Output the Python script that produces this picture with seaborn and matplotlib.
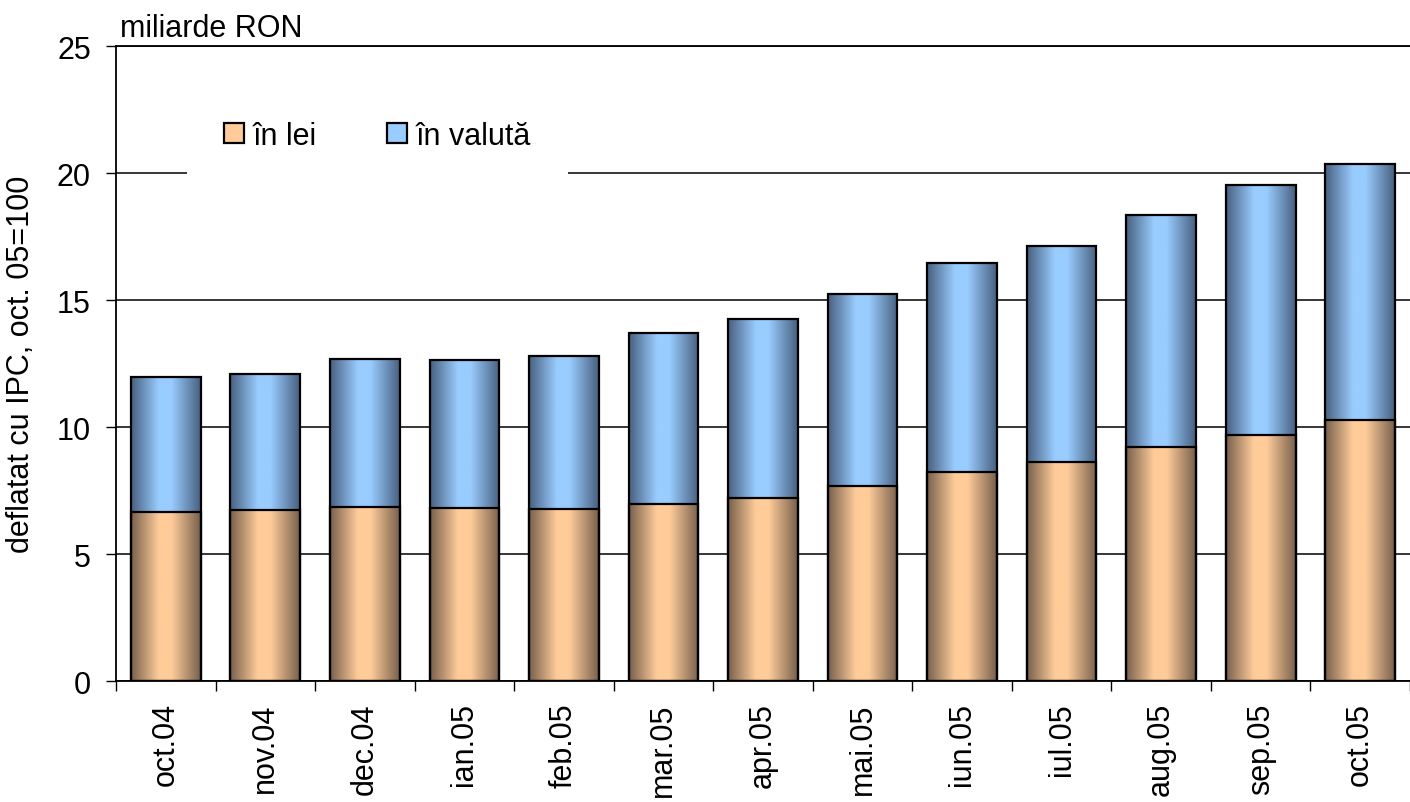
"""
Credite neguvernamentale - stacked bars (lei / valuta), deflatat cu IPC
"""
import numpy as np
import pandas as pd
import matplotlib
matplotlib.use("Agg")
import matplotlib.pyplot as plt
import seaborn as sns
from matplotlib.colors import LinearSegmentedColormap, to_rgb
from matplotlib.patches import Patch

luni = ["oct.04", "nov.04", "dec.04", "ian.05", "feb.05", "mar.05", "apr.05",
        "mai.05", "iun.05", "iul.05", "aug.05", "sep.05", "oct.05"]
in_lei = [6.65, 6.74, 6.85, 6.83, 6.78, 6.97, 7.23, 7.69, 8.25, 8.62, 9.24, 9.69, 10.28]
in_valuta = [5.34, 5.35, 5.84, 5.81, 6.04, 6.73, 7.02, 7.55, 8.21, 8.52, 9.11, 9.85, 10.09]

culoare_lei = "#FFCC99"
culoare_valuta = "#99CCFF"


def gradient_cmap(base):
    # dark - light - dark, ca in Excel
    r, g, b = to_rgb(base)
    dark = (r * 0.47, g * 0.47, b * 0.5)
    return LinearSegmentedColormap.from_list(
        "grad", [(0, dark), (0.4, base), (0.58, base), (1, dark)])


df = pd.DataFrame({"luna": luni, "lei": in_lei, "valuta": in_valuta})
df["total"] = df["lei"] + df["valuta"]

sns.set_style("white")
plt.rcParams["font.family"] = ["Liberation Sans", "DejaVu Sans"]
plt.rcParams.update({"text.color": "black", "axes.labelcolor": "black",
                     "xtick.color": "black", "ytick.color": "black"})

fig = plt.figure(figsize=(14.1, 8.03), dpi=100)
ax = fig.add_axes([116 / 1410, 1 - 682.3 / 803, 1 - 116 / 1410, 635 / 803])

sns.barplot(data=df, x="luna", y="total", color=culoare_valuta, width=0.7,
            edgecolor="black", linewidth=1.6, saturation=1, ax=ax)
sns.barplot(data=df, x="luna", y="lei", color=culoare_lei, width=0.7,
            edgecolor="black", linewidth=1.6, saturation=1, ax=ax)

n = len(luni)
cmaps = [gradient_cmap(culoare_valuta)] * n + [gradient_cmap(culoare_lei)] * n
grad = np.linspace(0, 1, 256).reshape(1, -1)
for i, (patch, cmap) in enumerate(zip(list(ax.patches), cmaps)):
    x0, y0 = patch.get_x(), patch.get_y()
    w, h = patch.get_width(), patch.get_height()
    ax.imshow(grad, cmap=cmap, extent=[x0, x0 + w, y0, y0 + h], aspect="auto",
              interpolation="bicubic", zorder=2 if i < n else 2.5)
    patch.set_facecolor("none")
    patch.set_zorder(3)

ax.set_xlim(-0.5, n - 0.5)
ax.set_ylim(0, 25)
ax.set_aspect("auto")

ax.set_yticks([0, 5, 10, 15, 20, 25])
ax.yaxis.grid(True, color="black", linewidth=1.1)
ax.xaxis.grid(False)
ax.set_axisbelow(True)

ax.set_xticks(range(n))
ax.set_xticklabels(luni, rotation=90)
ax.set_xticks(np.arange(-0.5, n, 1), minor=True)
ax.tick_params(axis="x", which="major", length=0, pad=15, labelsize=22)
ax.tick_params(axis="x", which="minor", bottom=True, length=7, width=1, color="black")
ax.tick_params(axis="y", left=True, length=7, width=1, color="black", pad=11, labelsize=22)

for side in ["left", "bottom", "top"]:
    ax.spines[side].set_visible(True)
    ax.spines[side].set_color("black")
    ax.spines[side].set_linewidth(1.3)
ax.spines["right"].set_visible(False)

ax.set_xlabel("")
ax.set_ylabel("deflatat cu IPC, oct. 05=100", fontsize=22)
ax.yaxis.set_label_coords(-0.062, 0.5)

ax.text(0.003, 1 + 10 / 635, "miliarde RON", transform=ax.transAxes,
        fontsize=22, va="baseline", ha="left")

handles = [Patch(facecolor=culoare_lei, edgecolor="black", linewidth=1.6, label="în lei"),
           Patch(facecolor=culoare_valuta, edgecolor="black", linewidth=1.6, label="în valută")]
leg = ax.legend(handles=handles, loc="center left", ncol=2,
                bbox_to_anchor=(187 / 1410, 1 - 137 / 803), bbox_transform=fig.transFigure,
                fontsize=22, frameon=True, fancybox=False, framealpha=1,
                facecolor="white", edgecolor="none", borderpad=1.2,
                handlelength=0.65, handleheight=0.65, handletextpad=0.3,
                columnspacing=2.3, borderaxespad=0)
leg.set_zorder(5)

plt.savefig("out.png", dpi=100)
